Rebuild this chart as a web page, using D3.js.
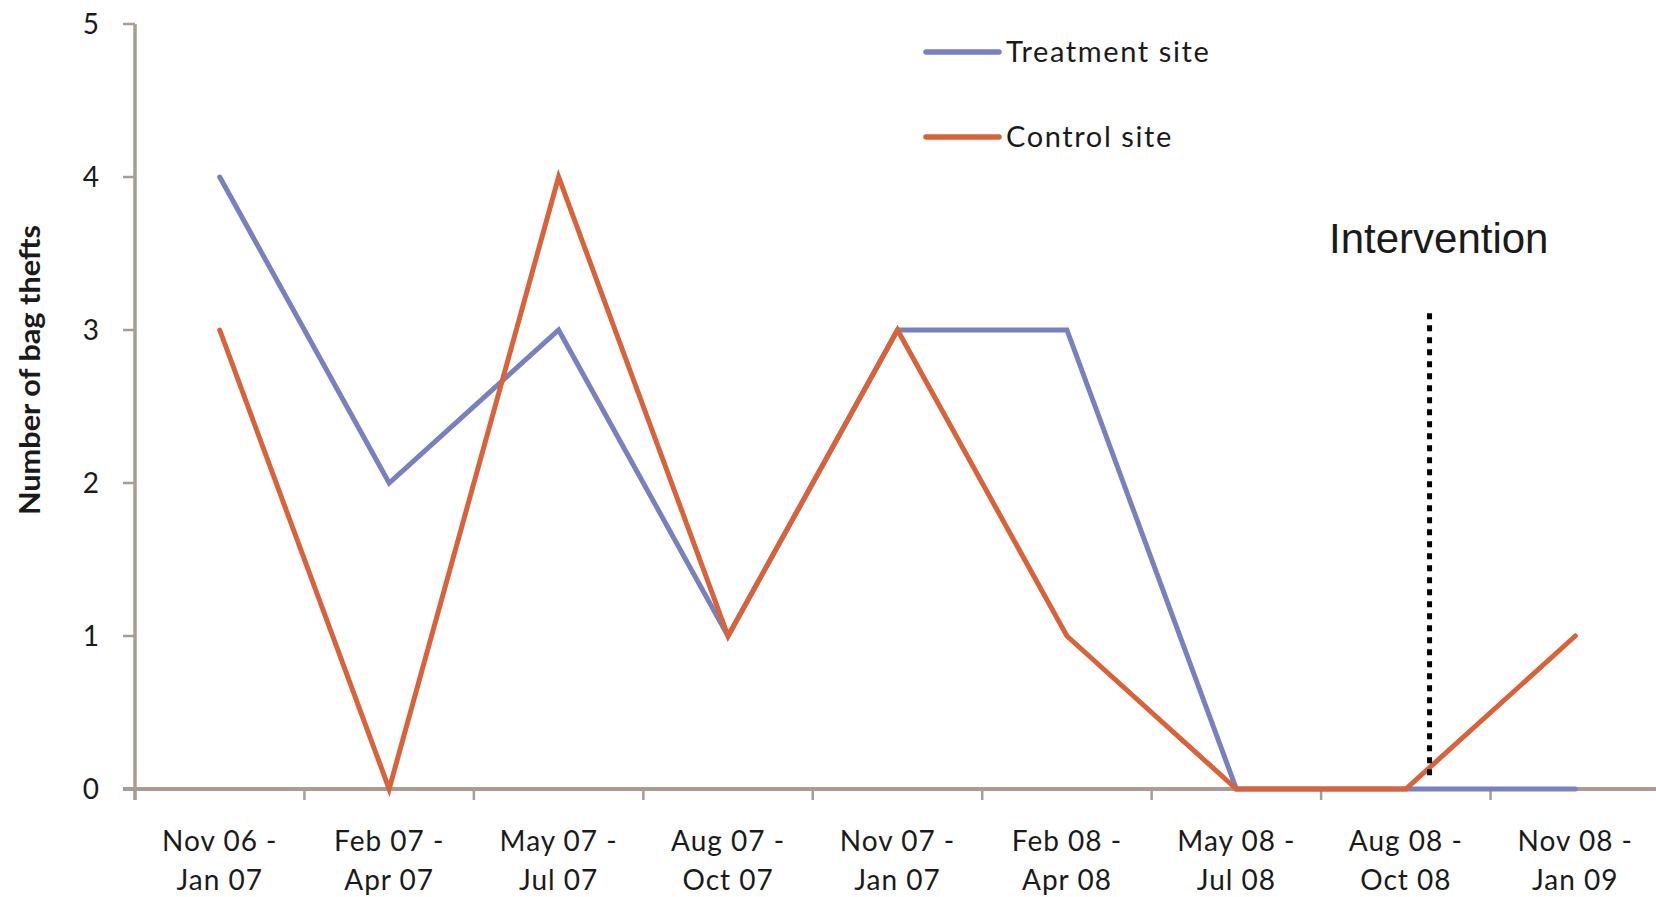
<!DOCTYPE html>
<html>
<head>
<meta charset="utf-8">
<script src="https://cdn.jsdelivr.net/npm/d3@7"></script>
<style>
  html, body { margin: 0; padding: 0; background: #fff; }
  svg { display: block; }
  .tick-label { font-family: Lato, "Open Sans", sans-serif; font-size: 28px; fill: #1a1a1a; letter-spacing: 1px; }
  .legend-label { font-family: Lato, "Open Sans", sans-serif; font-size: 29px; fill: #1a1a1a; letter-spacing: 1.6px; }
  .y-title { font-family: Lato, "Open Sans", sans-serif; font-size: 29px; font-weight: bold; fill: #1a1a1a; }
  .note { font-family: "Liberation Sans", Arial, sans-serif; font-size: 42px; fill: #1a1a1a; }
</style>
</head>
<body>
<svg id="chart" width="1656" height="897"></svg>
<script>
// Quarterly periods (two-line labels)
const periods = [
  ["Nov 06 -", "Jan 07"],
  ["Feb 07 -", "Apr 07"],
  ["May 07 -", "Jul 07"],
  ["Aug 07 -", "Oct 07"],
  ["Nov 07 -", "Jan 07"],
  ["Feb 08 -", "Apr 08"],
  ["May 08 -", "Jul 08"],
  ["Aug 08 -", "Oct 08"],
  ["Nov 08 -", "Jan 09"]
];
const periodKeys = periods.map(p => p.join(" "));

// Number of bag thefts per period
const treatmentSite = [4, 2, 3, 1, 3, 3, 0, 0, 0];
const controlSite   = [3, 0, 4, 1, 3, 1, 0, 0, 1];

const yTicks = [0, 1, 2, 3, 4, 5];

// Intervention falls just after the Aug 08 - Oct 08 period (fractional period index)
const interventionIndex = 7.14;

const series = [
  { name: "Treatment site", values: treatmentSite, color: "#7880bd" },
  { name: "Control site",   values: controlSite,   color: "#d8633a" }
];

const svg = d3.select("#chart");
const axisColor = "#a89c95";

const x = d3.scaleBand().domain(periodKeys).range([135, 1660]).padding(0);
const bw = x.bandwidth();
const cx = k => x(k) + bw / 2;
const y = d3.scaleLinear().domain([0, 5]).range([789, 24]);

// Y axis
const yAxis = svg.append("g");
yAxis.append("line")
  .attr("x1", 135).attr("x2", 135)
  .attr("y1", y(5)).attr("y2", y(0) + 11)
  .attr("stroke", axisColor).attr("stroke-width", 3.5);
yAxis.selectAll("line.tk").data(yTicks).join("line")
  .attr("class", "tk")
  .attr("x1", 123).attr("x2", 135)
  .attr("y1", d => y(d)).attr("y2", d => y(d))
  .attr("stroke", axisColor).attr("stroke-width", 2.5);
yAxis.selectAll("text").data(yTicks).join("text")
  .attr("class", "tick-label")
  .attr("x", 99).attr("y", d => y(d))
  .attr("dy", "0.36em")
  .attr("text-anchor", "end")
  .style("letter-spacing", "0px")
  .text(d => d);

// X axis
const xAxis = svg.append("g");
xAxis.append("line")
  .attr("x1", 123).attr("x2", 1660)
  .attr("y1", y(0)).attr("y2", y(0))
  .attr("stroke", axisColor).attr("stroke-width", 4);
xAxis.selectAll("line.tk").data(periodKeys.concat(["end"])).join("line")
  .attr("class", "tk")
  .attr("x1", d => d === "end" ? x.range()[1] : x(d))
  .attr("x2", d => d === "end" ? x.range()[1] : x(d))
  .attr("y1", y(0)).attr("y2", y(0) + 11)
  .attr("stroke", axisColor).attr("stroke-width", 2.5);
const xl = xAxis.selectAll("text").data(periods).join("text")
  .attr("class", "tick-label")
  .attr("text-anchor", "middle")
  .attr("transform", (d, i) => `translate(${cx(periodKeys[i])},0)`);
xl.append("tspan").attr("x", 0).attr("y", 851).text(d => d[0]);
xl.append("tspan").attr("x", 0).attr("y", 890).text(d => d[1]);

// Y axis title
svg.append("text")
  .attr("class", "y-title")
  .attr("transform", "translate(40,370) rotate(-90)")
  .attr("text-anchor", "middle")
  .attr("textLength", 290)
  .attr("lengthAdjust", "spacingAndGlyphs")
  .text("Number of bag thefts");

// Series lines
const line = d3.line()
  .x((d, i) => cx(periodKeys[i]))
  .y(d => y(d));

svg.append("g").selectAll("path").data(series).join("path")
  .attr("d", d => line(d.values))
  .attr("fill", "none")
  .attr("stroke", d => d.color)
  .attr("stroke-width", 5)
  .attr("stroke-linecap", "round")
  .attr("stroke-linejoin", "miter");

// Intervention marker
const ix = x(periodKeys[0]) + bw / 2 + interventionIndex * bw;
svg.append("line")
  .attr("x1", ix).attr("x2", ix)
  .attr("y1", y(3.11)).attr("y2", y(0.06))
  .attr("stroke", "#000")
  .attr("stroke-width", 5)
  .attr("stroke-dasharray", "6,6");
svg.append("text")
  .attr("class", "note")
  .attr("x", 1329).attr("y", 253)
  .text("Intervention");

// Legend
const legend = svg.append("g").selectAll("g").data(series).join("g")
  .attr("transform", (d, i) => `translate(0,${52 + i * 85})`);
legend.append("line")
  .attr("x1", 926).attr("x2", 999)
  .attr("y1", 0).attr("y2", 0)
  .attr("stroke", d => d.color)
  .attr("stroke-width", 5.5)
  .attr("stroke-linecap", "round");
legend.append("text")
  .attr("class", "legend-label")
  .attr("x", 1006).attr("y", 10)
  .text(d => d.name);
</script>
</body>
</html>
